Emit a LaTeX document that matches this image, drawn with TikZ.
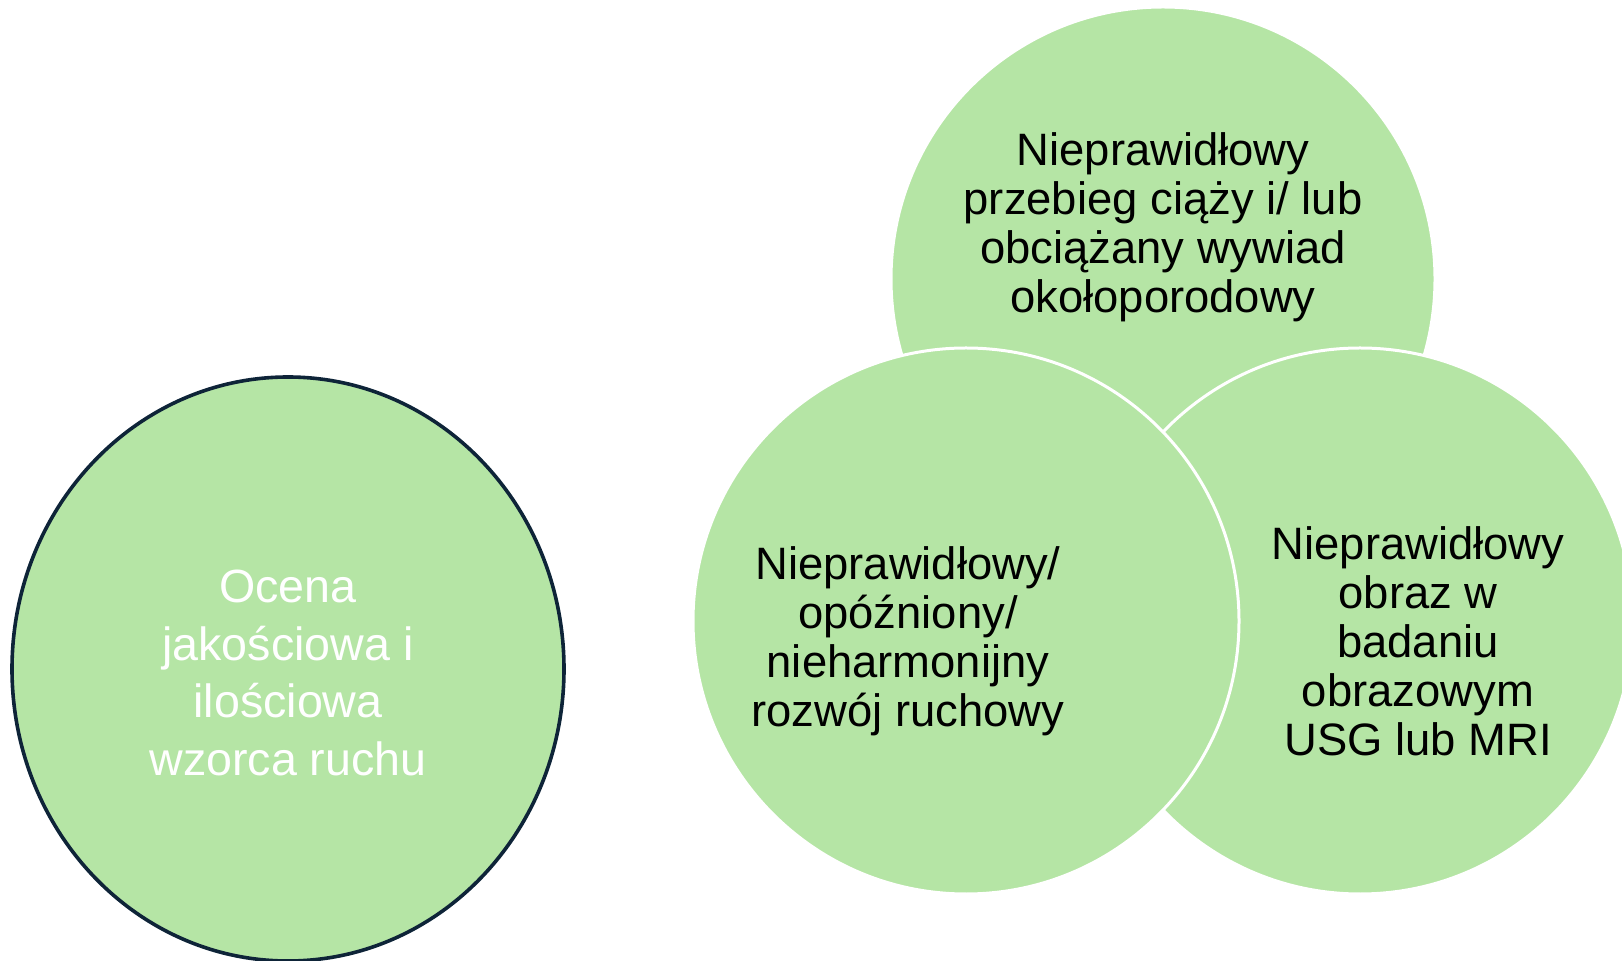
\documentclass[tikz,border=0pt]{standalone}
\usepackage{fontspec}
\setmainfont{Liberation Sans}
\usetikzlibrary{shapes.geometric}
\definecolor{leaf}{HTML}{B5E5A5}
\definecolor{navy}{HTML}{0E2438}
\tikzset{
  bubble/.style={circle, fill=leaf, draw=white, line width=1.5pt, minimum size=273pt, inner sep=0pt},
  oval/.style={ellipse, fill=leaf, draw=navy, line width=1.8pt, minimum width=276pt, minimum height=292pt, inner sep=0pt},
  darktext/.style={align=center, text=black, font=\fontsize{22.7}{24.5}\selectfont, inner sep=0pt},
  lighttext/.style={align=center, text=white, font=\fontsize{23.3}{28.8}\selectfont, inner sep=0pt}
}
\begin{document}
\begin{tikzpicture}[x=0.5pt, y=-0.5pt]
\useasboundingbox (0,0) rectangle (1622,961);
\clip (0,0) rectangle (1622,961);
\node[oval] (eval) at (288,669) {};
\node[lighttext] (evaltext) at (288,673) {Ocena\\jakościowa i\\ilościowa\\wzorca ruchu};
\node[bubble, minimum size=272pt] (top) at (1163,279) {};
\node[bubble] (right) at (1360,621) {};
\node[bubble] (left) at (966,621) {};
\node[darktext] (toptext) at (1163,227) {Nieprawidłowy\\przebieg ciąży i/ lub\\obciążany wywiad\\okołoporodowy};
\node[darktext] (lefttext) at (908,641) {Nieprawidłowy/\\opóźniony/\\nieharmonijny\\rozwój ruchowy};
\node[darktext] (righttext) at (1418,641) {Nieprawidłowy\\obraz w\\badaniu\\obrazowym\\USG lub MRI};
\end{tikzpicture}
\end{document}
